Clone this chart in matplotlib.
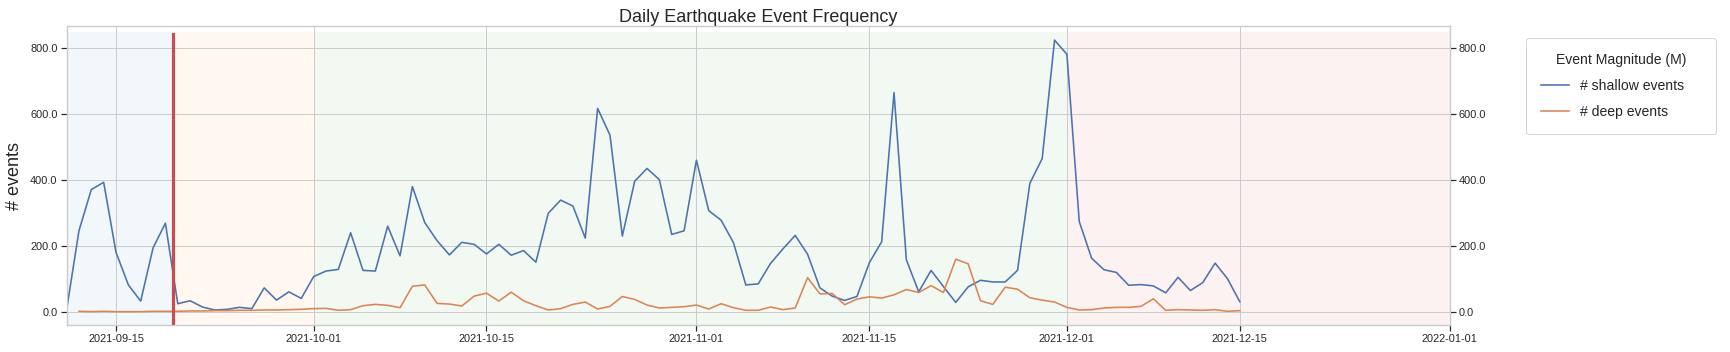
import numpy as np
import pandas as pd
import matplotlib
matplotlib.use("Agg")
import matplotlib.pyplot as plt
import matplotlib.dates as mdates
from matplotlib.ticker import FormatStrFormatter

plt.rcParams['font.family'] = ['Liberation Sans', 'DejaVu Sans']

# daily counts
shallow_start = "2021-09-11"
shallow_events = [8, 247, 372, 394, 182, 83, 34, 195, 270, 26,
                  35, 16, 7, 9, 15, 11, 74, 37, 62, 42,
                  108, 125, 130, 241, 127, 125, 261, 171, 381, 272,
                  217, 174, 212, 206, 177, 206, 173, 187, 152, 300,
                  340, 322, 225, 618, 537, 231, 397, 436, 402, 236,
                  247, 461, 308, 279, 211, 83, 86, 148, 192, 233,
                  176, 74, 49, 36, 48, 150, 214, 666, 159, 62,
                  127, 78, 30, 77, 97, 92, 92, 127, 391, 466,
                  825, 782, 275, 164, 129, 121, 82, 84, 80, 59,
                  106, 66, 90, 149, 102, 32]

deep_start = "2021-09-12"
deep_events = [3, 2, 3, 2, 2, 2, 3, 3, 3, 4, 4, 5, 5, 6, 6, 7, 7, 8, 9,
               11, 12, 6, 8, 20, 24, 21, 14, 79, 83, 27, 25,
               19, 49, 58, 34, 61, 35, 20, 7, 11, 24, 31, 10, 18, 48, 39,
               22, 13, 15, 17, 22, 10, 26, 14, 6, 6, 16, 8, 13, 105, 56,
               57, 23, 40, 47, 43, 53, 69, 60, 81, 60, 161, 147, 35, 24, 76, 70,
               44, 37, 31, 15, 7, 8, 13, 15, 15, 18, 41, 6, 8, 7, 6, 8, 3, 5]

# phases shaded in the background
phase_bounds = ["2021-09-11", "2021-09-19 14:40", "2021-10-01", "2021-12-01", "2022-01-01"]
phase_colors = ["tab:blue", "tab:orange", "tab:green", "tab:red"]
eruption_time = "2021-09-19 14:40"

shallow_dates = pd.date_range(shallow_start, periods=len(shallow_events), freq="D")
deep_dates = pd.date_range(deep_start, periods=len(deep_events), freq="D")

text_color = "#262626"
grid_color = "#cccccc"

fig = plt.figure(figsize=(1730 / 72, 352 / 72), dpi=72)
ax = fig.add_axes([0.0385, 0.0767, 0.7995, 0.8485])

ylim = (-38.5, 866.7)
ax.set_ylim(ylim)
ax.set_xlim(pd.Timestamp("2021-09-11"), pd.Timestamp("2022-01-01"))

for i, c in enumerate(phase_colors):
    ax.axvspan(pd.Timestamp(phase_bounds[i]), pd.Timestamp(phase_bounds[i + 1]),
               ymin=0, ymax=0.98, color=c, alpha=0.06, lw=0, zorder=0)

ax.plot(shallow_dates, shallow_events, color="#4c72b0", lw=1.6, label="# shallow events", zorder=3)
ax.plot(deep_dates, deep_events, color="#dd8452", lw=1.6, label="# deep events", zorder=3)
ax.axvline(pd.Timestamp(eruption_time), ymin=0, ymax=0.973, color="#c44e52", lw=3.2, zorder=4)

ax.set_yticks([0, 200, 400, 600, 800])
ax.yaxis.set_major_formatter(FormatStrFormatter("%.1f"))
ax.xaxis.set_major_locator(mdates.DayLocator(bymonthday=[1, 15]))
ax.xaxis.set_major_formatter(mdates.DateFormatter("%Y-%m-%d"))
ax.grid(True, color=grid_color, lw=1, zorder=1)
ax.set_axisbelow(True)

ax.set_title("Daily Earthquake Event Frequency", fontsize=18, color=text_color, pad=4)
ax.set_ylabel("# events", fontsize=18, color=text_color, labelpad=7)

ax2 = ax.twinx()
ax2.set_ylim(ylim)
ax2.set_yticks([0, 200, 400, 600, 800])
ax2.yaxis.set_major_formatter(FormatStrFormatter("%.1f"))

for a in (ax, ax2):
    for s in a.spines.values():
        s.set_color(grid_color)
        s.set_linewidth(1.2)
    a.tick_params(axis="both", labelsize=11, colors=text_color, length=6, width=1.2, pad=3)

leg = ax.legend(loc="upper left", bbox_to_anchor=(1.05, 0.985, 0.1476, 0), mode="expand",
                fontsize=14, title="Event Magnitude (M)", title_fontsize=14,
                labelspacing=0.85, borderpad=1.1, handlelength=2.0, frameon=True)
leg.get_frame().set_edgecolor(grid_color)
leg.get_title().set_color(text_color)
for t in leg.get_texts():
    t.set_color(text_color)

fig.savefig("out.png", dpi=72)
